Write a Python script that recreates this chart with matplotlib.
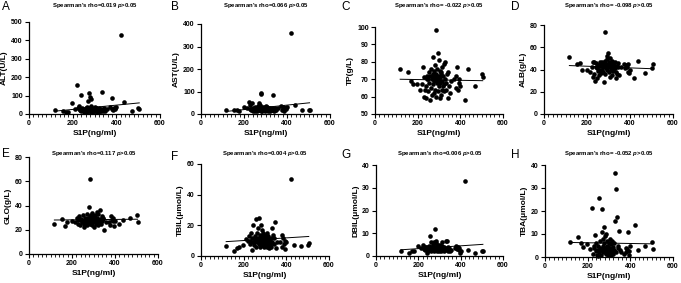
import numpy as np
import matplotlib
matplotlib.use("Agg")
import matplotlib.pyplot as plt
from matplotlib.ticker import MultipleLocator

plt.rcParams['font.family'] = ['Liberation Sans', 'DejaVu Sans']
plt.rcParams['font.weight'] = 'bold'
plt.rcParams['mathtext.fontset'] = 'custom'
plt.rcParams['mathtext.it'] = 'Liberation Sans:italic:bold'
plt.rcParams['mathtext.rm'] = 'Liberation Sans:bold'

# S1P (ng/ml), same patients in every panel
s1p = [118, 155, 168, 178, 198, 212, 222, 226, 230, 234, 238, 240, 244, 248, 250,
       252, 255, 258, 260, 262, 264, 266, 268, 270, 272, 274, 275, 277, 278, 280,
       282, 283, 285, 286, 288, 290, 292, 294, 295, 297, 298, 300, 302, 304, 305,
       307, 308, 310, 312, 314, 315, 318, 320, 322, 325, 328, 330, 333, 335, 338,
       340, 345, 350, 372, 378, 382, 386, 390, 393, 396, 400, 420, 435, 470, 500,
       505, 246, 265, 287, 293, 303, 311, 323, 342, 232, 356]

alt = [20, 15, 12, 10, 58, 25, 155, 30, 45, 20, 105, 15, 35, 25, 10,
       20, 28, 18, 30, 12, 22, 40, 70, 25, 15, 115, 30, 18, 90, 20,
       80, 35, 45, 12, 25, 30, 20, 15, 28, 22, 18, 40, 25, 15, 30,
       20, 35, 12, 22, 28, 18, 25, 30, 15, 20, 25, 18, 22, 120, 15,
       20, 30, 18, 40, 25, 85, 20, 30, 35, 25, 40, 430, 65, 18, 30,
       25, 20, 18, 22, 16, 20, 24, 18, 22, 20, 25]

ast = [18, 17, 16, 14, 30, 25, 55, 22, 40, 20, 50, 15, 25, 18, 12,
       30, 22, 18, 25, 15, 20, 35, 50, 22, 18, 40, 20, 15, 95, 90,
       25, 30, 28, 15, 20, 22, 30, 18, 25, 20, 15, 35, 22, 18, 25,
       20, 30, 12, 20, 25, 18, 22, 28, 15, 20, 25, 18, 20, 85, 15,
       22, 25, 18, 35, 20, 30, 15, 25, 28, 22, 30, 360, 38, 20, 20,
       20, 20, 16, 20, 16, 20, 22, 18, 20, 22, 25]

tp = [76, 74, 69, 67, 67, 64, 67, 77, 60, 64, 59, 66, 72, 63, 70,
      74, 68, 58, 72, 65, 76, 61, 70, 83, 67, 73, 75, 62, 69, 78,
      64, 71, 98, 60, 73, 68, 76, 85, 63, 72, 66, 81, 70, 59, 75,
      68, 61, 74, 69, 77, 64, 72, 66, 79, 63, 80, 70, 64, 68, 73,
      59, 66, 62, 70, 72, 65, 77, 64, 70, 68, 66, 58, 76, 66, 73,
      71, 70, 72, 70, 69, 71, 73, 67, 74, 71, 69]

alb = [51, 45, 46, 40, 40, 38, 42, 47, 33, 36, 30, 42, 46, 32, 44,
       39, 43, 35, 47, 40, 44, 37, 45, 40, 47, 42, 38, 43, 46, 29,
       44, 48, 74, 36, 45, 41, 49, 52, 40, 55, 44, 47, 42, 38, 50,
       33, 46, 43, 40, 48, 35, 45, 42, 39, 44, 47, 41, 38, 32, 43,
       36, 42, 35, 45, 41, 44, 42, 45, 38, 37, 40, 32, 48, 37, 41,
       45, 41, 43, 44, 42, 45, 43, 40, 46, 47, 42]

glo = [25, 29, 23, 26, 27, 26, 30, 28, 25, 31, 24, 28, 29, 26, 32,
       27, 25, 22, 30, 27, 28, 26, 33, 29, 24, 27, 30, 39, 28, 26,
       31, 27, 62, 25, 32, 28, 34, 29, 24, 30, 26, 31, 28, 22, 29,
       27, 32, 25, 28, 35, 26, 30, 24, 33, 27, 29, 36, 25, 28, 31,
       27, 29, 20, 26, 24, 31, 28, 27, 30, 23, 27, 25, 28, 30, 32,
       26, 27, 28, 29, 27, 30, 28, 27, 30, 29, 26]

tbil = [6.5, 3, 5.5, 6, 7, 11, 10, 13, 8, 15, 12, 4, 20, 9, 7,
        11, 13, 6, 24, 15, 9, 12, 18, 8, 10, 25, 6, 11, 14, 8,
        20, 10, 17, 7, 12, 9, 15, 6, 11, 8, 13, 10, 7, 14, 9,
        12, 6, 15, 10, 8, 13, 9, 5, 11, 7, 12, 6, 9, 18, 14,
        8, 22, 5, 9, 14, 6, 12, 8, 10, 4.5, 9, 50, 7.5, 6.5, 7,
        8.5, 9, 11, 13, 10, 12, 11, 8, 12, 10, 9]

dbil = [2.2, 1.5, 2.0, 2.3, 4.5, 3.5, 4.8, 3.0, 2.5, 4.0, 3.0, 1.5, 4.0, 2.0, 3.0,
        4.5, 9.0, 2.0, 4.0, 6.0, 3.5, 2.5, 5.0, 3.0, 2.0, 6.0, 2.5, 3.5, 12.0, 4.0,
        5.5, 3.0, 6.5, 2.0, 4.5, 3.0, 5.0, 2.5, 3.5, 2.0, 4.0, 3.0, 5.0, 2.5, 3.0,
        4.0, 2.0, 6.0, 3.0, 4.5, 2.5, 3.5, 2.0, 4.0, 3.0, 2.5, 6.5, 3.0, 6.5, 4.0,
        2.0, 3.5, 2.0, 3.5, 4.5, 3.0, 4.0, 2.5, 3.5, 1.5, 2.0, 33.0, 2.5, 1.5, 2.0,
        2.2, 3.0, 3.5, 3.0, 4.0, 3.5, 3.0, 3.5, 3.0, 4.0, 2.5]

tba = [6.5, 8.5, 6.0, 4.5, 5.5, 3.5, 21.5, 1.5, 4.0, 9.5, 2.5, 6.0, 3.0, 5.0, 0.5,
       25.5, 2.0, 4.0, 7.0, 3.0, 1.0, 11.0, 21.0, 2.0, 8.0, 5.0, 3.0, 13.0, 6.0, 2.0,
       9.0, 4.0, 1.5, 10.0, 3.0, 7.0, 5.0, 1.0, 4.5, 2.5, 6.0, 3.5, 1.5, 8.0, 4.0,
       2.0, 5.5, 1.0, 3.0, 7.0, 2.0, 4.5, 1.5, 6.0, 3.0, 15.5, 36.5, 2.0, 29.5, 17.5,
       5.0, 11.5, 3.0, 1.5, 4.0, 2.0, 3.5, 11.0, 2.5, 1.0, 5.0, 14.0, 3.0, 5.0, 6.5,
       3.5, 1.0, 3.5, 2.0, 4.0, 1.5, 3.0, 2.5, 4.0, 5.0, 2.0]

letters = ['A', 'B', 'C', 'D', 'E', 'F', 'G', 'H']
ylabels = ['ALT(U/L)', 'AST(U/L)', 'TP(g/L)', 'ALB(g/L)',
           'GLO(g/L)', 'TBIL(μmol/L)', 'DBIL(μmol/L)', 'TBA(μmol/L)']
rhos = ['0.019', '0.066', ' -0.022', ' -0.098', '0.117', '0.004', '0.006', ' -0.052']
yvals = [alt, ast, tp, alb, glo, tbil, dbil, tba]
ylims = [(0, 500), (0, 400), (50, 100), (0, 80), (0, 80), (0, 60), (0, 40), (0, 40)]
ysteps = [100, 100, 10, 20, 20, 20, 10, 10]

W, H = 681, 283
# axes boxes in pixels: left, right, top, bottom
boxes = [(29, 160, 22, 114), (201, 330, 24, 114), (375, 503, 27, 114), (544, 673, 25, 114),
         (29, 158, 157, 254), (201, 329, 164, 256), (376, 503, 165, 256), (545, 673, 165, 257)]
letter_pos = [(2, 7), (171, 7), (341, 7), (511, 7), (2, 154), (171, 157), (341, 155), (511, 155)]
title_y = [6, 6, 6, 6, 153, 153, 153, 153]

fig = plt.figure(figsize=(W / 100, H / 100), dpi=100)

for i in range(8):
    l, r, t, b = boxes[i]
    ax = fig.add_axes([l / W, 1 - b / H, (r - l) / W, (b - t) / H])
    x = np.array(s1p)
    y = np.array(yvals[i])
    ax.scatter(x, y, s=11, color='black', zorder=3, clip_on=False, linewidths=0)
    k, c = np.polyfit(x, y, 1)
    xs = np.array([x.min(), x.max()])
    ax.plot(xs, k * xs + c, color='black', lw=0.7)

    ax.set_xlim(0, 600)
    ax.set_ylim(*ylims[i])
    ax.xaxis.set_major_locator(MultipleLocator(200))
    ax.xaxis.set_minor_locator(MultipleLocator(20))
    ax.yaxis.set_major_locator(MultipleLocator(ysteps[i]))
    for s in ['top', 'right']:
        ax.spines[s].set_visible(False)
    for s in ['left', 'bottom']:
        ax.spines[s].set_linewidth(0.9)
    ax.tick_params(which='major', length=3, width=0.8, labelsize=5, pad=1.5)
    ax.tick_params(which='minor', length=1.8, width=0.6)
    ax.set_xlabel('S1P(ng/ml)', fontsize=6, fontweight='bold', labelpad=2)
    ax.set_ylabel(ylabels[i], fontsize=6, fontweight='bold', labelpad=2)

    # titles and panel letters
    fig.text((l + r) / 2 / W, 1 - title_y[i] / H,
             "Spearman's rho=" + rhos[i] + r" $\mathit{p}$>0.05",
             ha='center', va='center', fontsize=4.3, fontweight='bold')
    fig.text(letter_pos[i][0] / W, 1 - letter_pos[i][1] / H, letters[i],
             ha='left', va='center', fontsize=8.5, fontweight='normal')

fig.savefig('out.png', dpi=100)
